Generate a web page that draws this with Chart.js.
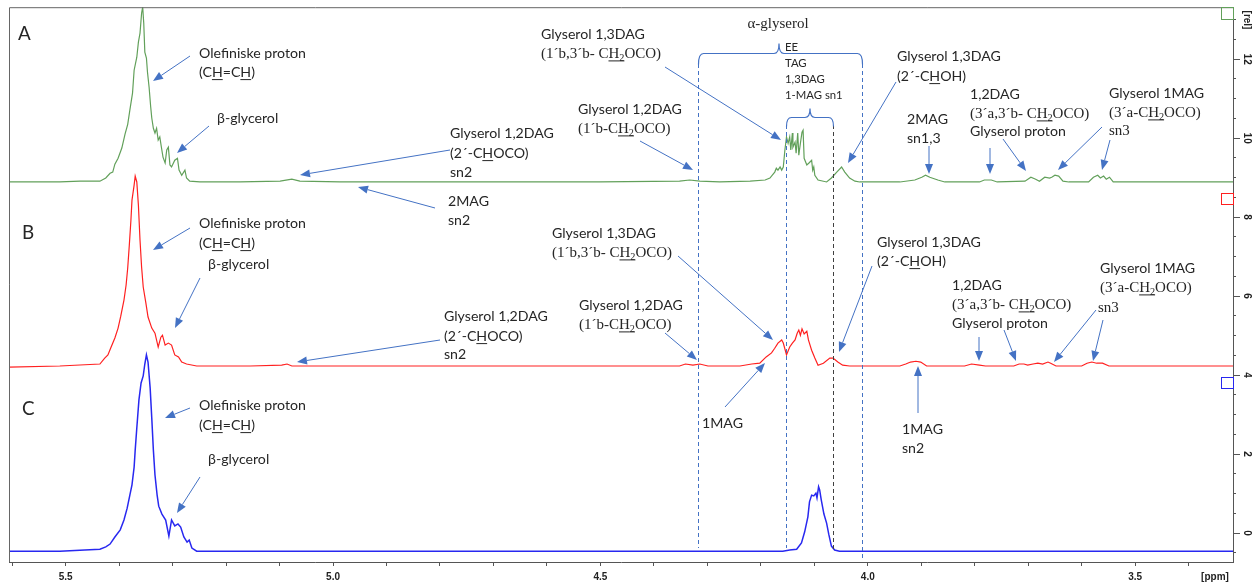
<!DOCTYPE html>
<html><head><meta charset="utf-8">
<script src="https://cdn.jsdelivr.net/npm/chart.js@4.4.1/dist/chart.umd.min.js"></script>
<style>html,body{margin:0;padding:0;background:#fff;overflow:hidden}canvas{display:block}</style>
</head><body>
<canvas id="c" width="1256" height="586"></canvas>
<script>
// ---------- DATA (ppm, rel intensity) ----------
const ppmA = [5.606,5.511,5.473,5.436,5.425,5.417,5.412,5.408,5.402,5.395,5.389,5.384,5.380,5.375,5.372,5.367,5.364,5.361,5.358,5.356,5.354,5.352,5.349,5.347,5.344,5.341,5.339,5.336,5.333,5.330,5.327,5.324,5.321,5.318,5.314,5.311,5.308,5.305,5.302,5.296,5.291,5.288,5.283,5.277,5.274,5.268,5.249,5.174,5.099,5.077,5.062,4.987,4.875,4.688,4.501,4.352,4.333,4.314,4.277,4.220,4.192,4.183,4.174,4.171,4.168,4.164,4.161,4.158,4.155,4.152,4.149,4.146,4.144,4.141,4.140,4.136,4.134,4.131,4.129,4.126,4.123,4.121,4.119,4.114,4.110,4.105,4.103,4.101,4.099,4.093,4.077,4.068,4.058,4.049,4.043,4.034,4.024,4.015,3.940,3.912,3.899,3.892,3.884,3.869,3.856,3.791,3.782,3.769,3.758,3.706,3.695,3.686,3.679,3.669,3.660,3.656,3.650,3.643,3.635,3.624,3.587,3.578,3.570,3.565,3.559,3.554,3.548,3.541,3.472,3.317];
const relA = [8.89,8.89,8.91,8.91,8.99,9.11,9.14,9.34,9.49,9.75,10.10,10.35,10.71,11.14,11.72,12.05,12.43,12.66,13.17,13.32,12.91,12.18,12.03,11.67,11.29,10.79,10.51,10.25,10.13,10.25,9.95,10.03,9.77,9.52,9.37,9.70,9.77,9.32,9.27,9.44,9.49,9.19,9.06,9.19,8.99,8.91,8.89,8.89,8.91,8.96,8.91,8.89,8.89,8.89,8.89,8.91,8.94,8.91,8.89,8.91,8.94,8.99,9.14,9.24,9.19,9.27,9.19,9.27,9.70,10.03,9.87,10.03,9.70,10.13,9.77,9.90,9.62,10.13,9.57,9.87,10.15,10.20,9.49,9.32,9.37,9.44,9.19,9.27,9.06,8.94,8.89,8.99,9.14,9.27,9.14,8.99,8.91,8.89,8.89,8.94,9.01,9.06,9.01,8.94,8.89,8.89,8.94,8.94,8.89,8.91,9.01,8.96,8.91,9.01,8.99,9.01,9.06,9.04,8.91,8.89,8.89,9.01,9.06,8.99,9.04,8.96,9.01,8.89,8.89,8.89];

const ppmB = [5.606,5.511,5.436,5.427,5.421,5.415,5.408,5.402,5.397,5.391,5.387,5.384,5.381,5.378,5.376,5.372,5.370,5.367,5.364,5.361,5.358,5.355,5.350,5.346,5.339,5.333,5.327,5.322,5.319,5.314,5.308,5.302,5.296,5.289,5.283,5.274,5.255,5.155,5.096,5.086,5.077,4.875,4.501,4.352,4.341,4.327,4.314,4.299,4.239,4.217,4.202,4.190,4.180,4.174,4.168,4.161,4.158,4.152,4.146,4.141,4.136,4.132,4.129,4.126,4.123,4.119,4.114,4.111,4.105,4.099,4.093,4.083,4.071,4.065,4.056,4.047,4.034,3.940,3.929,3.920,3.910,3.901,3.890,3.819,3.806,3.791,3.780,3.727,3.717,3.708,3.701,3.691,3.682,3.673,3.663,3.658,3.648,3.600,3.590,3.581,3.572,3.561,3.549,3.317];
const relB = [4.20,4.23,4.28,4.43,4.51,4.71,4.94,5.19,5.49,5.90,6.28,6.71,7.29,7.92,8.43,8.81,9.04,8.89,8.30,7.42,6.73,6.23,5.82,5.47,5.19,5.06,4.71,4.96,5.01,4.76,4.81,4.76,4.51,4.46,4.33,4.28,4.23,4.23,4.25,4.28,4.23,4.23,4.23,4.23,4.28,4.25,4.28,4.23,4.23,4.28,4.30,4.46,4.56,4.68,4.81,4.89,4.81,4.51,4.71,4.81,4.89,5.06,5.14,5.01,5.17,5.04,5.11,4.89,4.63,4.43,4.25,4.30,4.43,4.43,4.33,4.25,4.23,4.23,4.28,4.33,4.35,4.33,4.23,4.23,4.28,4.25,4.23,4.23,4.28,4.28,4.25,4.28,4.30,4.28,4.33,4.30,4.23,4.23,4.30,4.33,4.30,4.30,4.23,4.23];

const ppmC = [5.606,5.511,5.436,5.425,5.417,5.408,5.398,5.391,5.385,5.380,5.376,5.372,5.370,5.367,5.363,5.359,5.355,5.352,5.349,5.346,5.342,5.339,5.336,5.333,5.329,5.326,5.320,5.313,5.307,5.302,5.296,5.290,5.285,5.279,5.273,5.269,5.264,5.255,5.062,4.688,4.159,4.146,4.133,4.124,4.118,4.112,4.109,4.105,4.101,4.097,4.095,4.092,4.090,4.087,4.082,4.077,4.073,4.068,4.062,4.053,3.317];
const relC = [-0.46,-0.46,-0.41,-0.35,-0.28,-0.10,0.08,0.33,0.63,0.96,1.22,1.67,2.10,2.66,3.37,3.80,3.98,4.28,4.51,4.33,3.67,2.91,2.10,1.47,0.96,0.68,0.48,0.33,-0.08,0.33,0.18,0.23,0.15,-0.10,-0.23,-0.18,-0.38,-0.46,-0.46,-0.46,-0.46,-0.43,-0.41,-0.25,0.03,0.41,0.79,0.96,0.94,1.01,0.89,1.17,1.09,0.84,0.48,0.25,-0.03,-0.33,-0.43,-0.46,-0.46];

const xLabelValues = [5.5, 5.0, 4.5, 4.0, 3.5];
const xTickLabels = ['5.5', '5.0', '4.5', '4.0', '3.5'];
const yLabelValues = [0, 2, 4, 6, 8, 10, 12];
const yTickLabels = ['0', '2', '4', '6', '8', '10', '12'];
const xUnit = '[ppm]', yUnit = '[rel]';
const markerPpm = [4.317, 4.153, 4.065, 4.011];

// ---------- layout / style ----------
const X_MIN = 3.317, X_MAX = 5.606, Y_MIN = -0.734, Y_MAX = 13.316;
const ANNO = '#4472C4', TXT = '#262626';
const SANS = 'Lato, "Noto Sans", sans-serif';
const SERIF = '"Liberation Serif", "DejaVu Serif", serif';

// labels: [x, yMid, kind, text]  ( _ toggles underline, ~ toggles subscript )
const labels = [
  [18,33,'big','A'],
  [199,53,'s','Olefiniske proton'],[199,72,'s','(C_H_=C_H_)'],
  [217,118,'s','β-glycerol'],
  [450,133,'s','Glyserol 1,2DAG'],[450,153,'s','(2´-C_H_OCO)'],[450,172,'s','sn2'],
  [448,201,'s','2MAG'],[448,220,'s','sn2'],
  [541,34,'s','Glyserol 1,3DAG'],[541,53,'r','(1´b,3´b- C_H~2~_OCO)'],
  [578,109,'s','Glyserol 1,2DAG'],[578,128,'r','(1´b-C_H~2~_OCO)'],
  [785,47,'m','EE'],[785,63,'m','TAG'],[785,79,'m','1,3DAG'],[785,95,'m','1-MAG sn1'],
  [897,56,'s','Glyserol 1,3DAG'],[897,76,'s','(2´-C_H_OH)'],
  [907,119,'s','2MAG'],[907,138,'s','sn1,3'],
  [970,94,'s','1,2DAG'],[970,113,'r','(3´a,3´b- C_H~2~_OCO)'],[970,131,'s','Glyserol proton'],
  [1109,93,'s','Glyserol 1MAG'],[1109,112,'r','(3´a-C_H~2~_OCO)'],[1109,130,'r','sn3'],
  [22,232,'big','B'],
  [199,223,'s','Olefiniske proton'],[199,243,'s','(C_H_=C_H_)'],
  [208,264,'s','β-glycerol'],
  [444,316,'s','Glyserol 1,2DAG'],[444,336,'s','(2´-C_H_OCO)'],[444,354,'s','sn2'],
  [552,233,'s','Glyserol 1,3DAG'],[552,252,'r','(1´b,3´b- C_H~2~_OCO)'],
  [579,305,'s','Glyserol 1,2DAG'],[579,324,'r','(1´b-C_H~2~_OCO)'],
  [702,423,'s','1MAG'],
  [877,242,'s','Glyserol 1,3DAG'],[877,261,'s','(2´-C_H_OH)'],
  [902,429,'s','1MAG'],[902,448,'s','sn2'],
  [952,285,'s','1,2DAG'],[952,304,'r','(3´a,3´b- C_H~2~_OCO)'],[952,323,'s','Glyserol proton'],
  [1100,268,'s','Glyserol 1MAG'],[1100,287,'r','(3´a-C_H~2~_OCO)'],[1098,307,'r','sn3'],
  [22,408,'big','C'],
  [199,405,'s','Olefiniske proton'],[199,425,'s','(C_H_=C_H_)'],
  [208,459,'s','β-glycerol']
];
const arrows = [
  [190,56,153,81],[209,126,177,153],[450,150,300,175],[435,208,358,187],
  [665,67,781,140],[640,141,693,170],[896,82,848,163],[929,146,929,174],
  [990,148,990,174],[1003,139,1026,171],[1102,127,1058,170],[1110,140,1102,170],
  [190,228,153,250],[200,278,175,328],[440,340,297,362],[678,256,773,340],
  [665,333,697,360],[725,407,765,363],[872,266,839,352],[918,413,918,366],
  [979,337,979,361],[1004,330,1016,361],[1096,310,1054,362],[1103,320,1093,361],
  [190,408,165,418],[200,477,177,513]
];

function parseRich(s){
  const segs=[]; let cur='', u=false, sub=false;
  for (const ch of s){
    if (ch==='_' || ch==='~'){ if(cur) segs.push({t:cur,u,sub}); cur='';
      if (ch==='_') u=!u; else sub=!sub; }
    else cur+=ch;
  }
  if (cur) segs.push({t:cur,u,sub});
  return segs;
}
function drawRich(ctx,x,yMid,text,fam,size,align){
  const segs=parseRich(text);
  const base=yMid+size*0.36;
  const fontFor=s=>`${s.sub?size*0.68:size}px ${fam}`;
  let total=0; segs.forEach(s=>{ctx.font=fontFor(s); total+=ctx.measureText(s.t).width;});
  let cx = align==='center' ? x-total/2 : x;
  ctx.textAlign='left'; ctx.textBaseline='alphabetic';
  segs.forEach(s=>{
    ctx.font=fontFor(s);
    const yy = s.sub ? base+size*0.2 : base;
    ctx.fillText(s.t,cx,yy);
    const w=ctx.measureText(s.t).width;
    if (s.u) ctx.fillRect(cx, base+2, w, 1);
    cx+=w;
  });
}
function arrow(ctx,x1,y1,x2,y2){
  const a=Math.atan2(y2-y1,x2-x1), L=10, W=4;
  const bx=x2-L*Math.cos(a), by=y2-L*Math.sin(a);
  ctx.beginPath(); ctx.moveTo(x1,y1); ctx.lineTo(bx,by); ctx.stroke();
  ctx.beginPath(); ctx.moveTo(x2,y2);
  ctx.lineTo(bx+W*Math.sin(a), by-W*Math.cos(a));
  ctx.lineTo(bx-W*Math.sin(a), by+W*Math.cos(a));
  ctx.closePath(); ctx.fill();
}
function brace(ctx,xl,xr,xc,y,depth,up){
  ctx.beginPath();
  ctx.moveTo(xl,y+depth); ctx.quadraticCurveTo(xl,y,xl+5,y);
  ctx.lineTo(xc-5,y); ctx.quadraticCurveTo(xc,y,xc,y-up);
  ctx.quadraticCurveTo(xc,y,xc+5,y);
  ctx.lineTo(xr-5,y); ctx.quadraticCurveTo(xr,y,xr,y+depth);
  ctx.stroke();
}

const overlay = {
  id:'overlay',
  afterDraw(chart){
    const ctx=chart.ctx, ca=chart.chartArea, xs=chart.scales.x, ys=chart.scales.y;
    ctx.save();
    // frame top/left
    ctx.strokeStyle='#666'; ctx.lineWidth=1;
    ctx.beginPath(); ctx.moveTo(ca.left+0.5,ca.bottom); ctx.lineTo(ca.left+0.5,ca.top+0.5); ctx.lineTo(ca.right,ca.top+0.5); ctx.stroke();
    // major y ticks
    ctx.strokeStyle='#555';
    yLabelValues.forEach(v=>{const y=Math.round(ys.getPixelForValue(v))+0.5; ctx.beginPath(); ctx.moveTo(ca.right,y); ctx.lineTo(ca.right+7,y); ctx.stroke();});
    // rotated y labels
    ctx.fillStyle='#222'; ctx.font='bold 10px "Liberation Sans", Arial, sans-serif'; ctx.textAlign='center'; ctx.textBaseline='middle';
    yLabelValues.forEach((v,i)=>{const y=ys.getPixelForValue(v); ctx.save(); ctx.translate(ca.right+14,y); ctx.rotate(Math.PI/2); ctx.fillText(yTickLabels[i],0,0); ctx.restore();});
    ctx.save(); ctx.translate(ca.right+14,20); ctx.rotate(Math.PI/2); ctx.fillText(yUnit,0,0); ctx.restore();
    ctx.fillText(xUnit,1215,577);
    // spectrum markers
    [['#62a05a',7,19],['#ff2020',193,204],['#2828f0',377,388]].forEach(b=>{
      ctx.strokeStyle=b[0]; ctx.strokeRect(ca.right-12+0.5,b[1]+0.5,12,b[2]-b[1]);
    });
    // dashed markers
    const mx=markerPpm.map(p=>Math.round(xs.getPixelForValue(p))+0.5);
    const mRange=[[64,548],[125,548],[125,552],[64,560]];
    ctx.setLineDash([4,3]);
    mx.forEach((x,i)=>{ctx.strokeStyle= i===2 ? '#404040' : ANNO; ctx.beginPath(); ctx.moveTo(x,mRange[i][0]); ctx.lineTo(x,mRange[i][1]); ctx.stroke();});
    ctx.setLineDash([]);
    // braces
    ctx.strokeStyle=ANNO; ctx.lineWidth=1.2;
    brace(ctx,mx[0],mx[3],779,53.5,11,10);
    brace(ctx,mx[1],mx[2],810,117.5,9,9);
    // arrows
    ctx.lineWidth=1; ctx.fillStyle=ANNO; ctx.strokeStyle=ANNO;
    arrows.forEach(a=>arrow(ctx,...a));
    // text
    ctx.font='100px '+SANS;
    const sPx=Math.min(16, 100*107/ctx.measureText('Olefiniske proton').width);
    ctx.fillStyle=TXT;
    labels.forEach(([x,y,k,t])=>{
      if (k==='s') drawRich(ctx,x,y,t,SANS,sPx);
      else if (k==='r') drawRich(ctx,x,y,t,SERIF,15);
      else if (k==='m') drawRich(ctx,x,y,t,SANS,sPx*0.8);
      else if (k==='big') drawRich(ctx,x,y,t,SANS,sPx*1.33);
    });
    drawRich(ctx,778,23,'α-glyserol',SERIF,15,'center');
    ctx.restore();
  }
};

const pts=(xs,ys)=>xs.map((x,i)=>({x,y:ys[i]}));
const ds=(xs,ys,c,w)=>({data:pts(xs,ys),showLine:true,borderColor:c,borderWidth:w,pointRadius:0,tension:0,fill:false});

new Chart(document.getElementById('c'),{
  type:'scatter',
  data:{datasets:[ds(ppmA,relA,'#62a05a',1.2),ds(ppmB,relB,'#ff2020',1.2),ds(ppmC,relC,'#2828f0',1.5)]},
  options:{
    responsive:false, animation:false, devicePixelRatio:1, events:[],
    layout:{padding:{left:9,top:7,right:0,bottom:0}},
    plugins:{legend:{display:false},tooltip:{enabled:false}},
    scales:{
      x:{type:'linear',position:'bottom',reverse:true,min:X_MIN,max:X_MAX,
        afterFit:s=>{s.height=24;},
        ticks:{stepSize:0.1,autoSkip:false,includeBounds:false,maxRotation:0,minRotation:0,padding:5,color:'#222',
          font:{family:'"Liberation Sans", Arial, sans-serif',size:10,weight:'bold'},
          callback:v=>{const i=xLabelValues.findIndex(q=>Math.abs(q-v)<1e-6); return i>=0?xTickLabels[i]:'';}},
        grid:{drawOnChartArea:false,drawTicks:true,tickLength:4,color:'#555'},
        border:{color:'#555',width:1}},
      y:{type:'linear',position:'right',min:Y_MIN,max:Y_MAX,
        afterFit:s=>{s.width=23;},
        ticks:{stepSize:0.5,autoSkip:false,includeBounds:false,padding:0,callback:()=>''},
        grid:{drawOnChartArea:false,drawTicks:true,tickLength:3,color:'#555'},
        border:{color:'#555',width:1}}
    }
  },
  plugins:[overlay]
});
</script>
</body></html>
